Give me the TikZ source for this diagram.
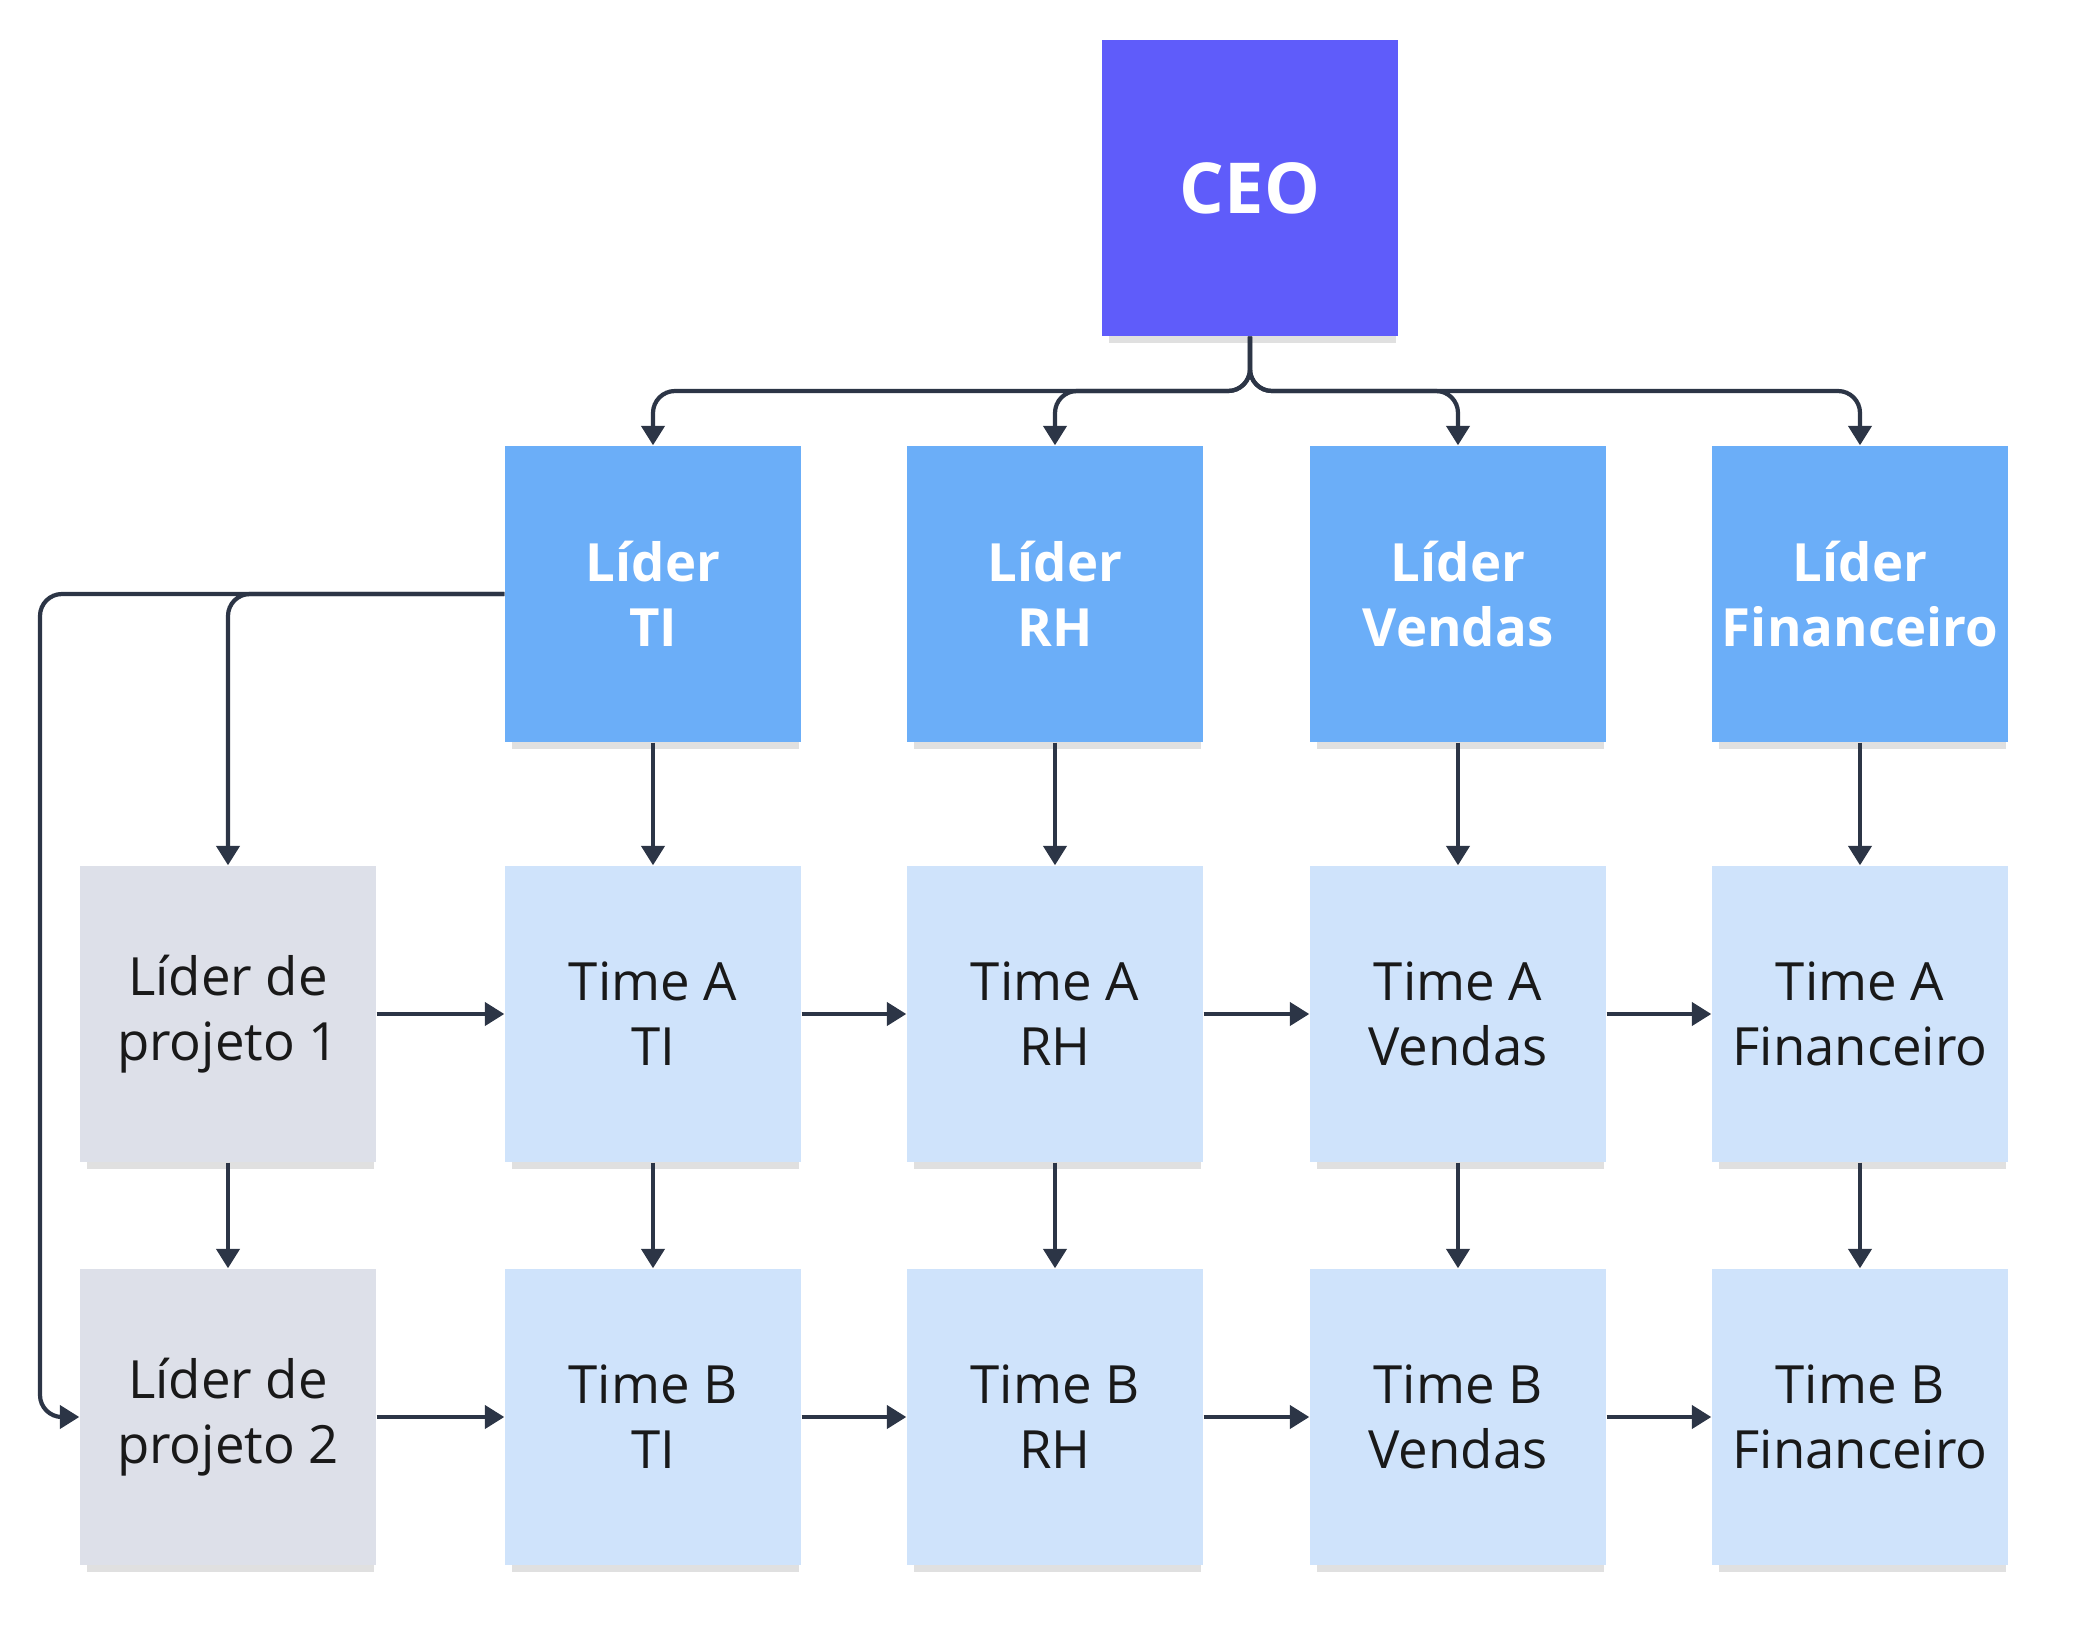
\documentclass[tikz,border=0pt]{standalone}
\usepackage{fontspec}
\setmainfont{Open Sans}
\usetikzlibrary{arrows.meta,shadows}
\definecolor{ceoblue}{RGB}{95,92,250}
\definecolor{leadblue}{RGB}{107,174,248}
\definecolor{teamblue}{RGB}{207,227,251}
\definecolor{projgray}{RGB}{221,224,233}
\definecolor{linedark}{RGB}{44,53,70}
\tikzset{
  box/.style={minimum width=2.96cm,minimum height=2.96cm,inner sep=0pt,align=center,
    font=\fontsize{15}{18.5}\selectfont,
    drop shadow={shadow xshift=0.03cm,shadow yshift=-0.12cm,shadow scale=0.97,fill=black,opacity=0.12}},
  ceobox/.style={box,fill=ceoblue,text=white,font=\fontsize{20}{24}\selectfont\bfseries},
  leadbox/.style={box,fill=leadblue,text=white,font=\fontsize{15}{18.5}\selectfont\bfseries},
  teambox/.style={box,fill=teamblue,text=black!90},
  projbox/.style={box,fill=projgray,text=black!90},
  conn/.style={draw=linedark,line width=1.2pt,rounded corners=0.22cm,
    -{Triangle[length=5.5pt,width=6.5pt]}}
}
\begin{document}
\begin{tikzpicture}
      \useasboundingbox (0,0) rectangle (20.8,-16.42);
      \node[ceobox](ceo) at (12.50,-1.88) {CEO};
      \node[leadbox](liderTI) at (6.53,-5.94) {Líder\\TI};
      \node[leadbox](liderRH) at (10.55,-5.94) {Líder\\RH};
      \node[leadbox](liderVendas) at (14.58,-5.94) {Líder\\Vendas};
      \node[leadbox](liderFin) at (18.60,-5.94) {Líder\\Financeiro};
      \node[projbox](proj1) at (2.28,-10.14) {Líder de\\projeto 1};
      \node[teambox](timeATI) at (6.53,-10.14) {Time A\\TI};
      \node[teambox](timeARH) at (10.55,-10.14) {Time A\\RH};
      \node[teambox](timeAVendas) at (14.58,-10.14) {Time A\\Vendas};
      \node[teambox](timeAFin) at (18.60,-10.14) {Time A\\Financeiro};
      \node[projbox](proj2) at (2.28,-14.17) {Líder de\\projeto 2};
      \node[teambox](timeBTI) at (6.53,-14.17) {Time B\\TI};
      \node[teambox](timeBRH) at (10.55,-14.17) {Time B\\RH};
      \node[teambox](timeBVendas) at (14.58,-14.17) {Time B\\Vendas};
      \node[teambox](timeBFin) at (18.60,-14.17) {Time B\\Financeiro};
      \coordinate(bus) at (12.50,-3.91);
      \coordinate(sideline) at (0.40,-5.94);
      % CEO para os lideres
      \draw[conn] (ceo.south)--(bus)-|(liderTI.north);
      \draw[conn] (ceo.south)--(bus)-|(liderRH.north);
      \draw[conn] (ceo.south)--(bus)-|(liderVendas.north);
      \draw[conn] (ceo.south)--(bus)-|(liderFin.north);
      % lideres de projeto
      \draw[conn] (liderTI.west)-|(proj1.north);
      \draw[conn] (liderTI.west)--(sideline)|-(proj2.west);
      \draw[conn] (proj1)--(proj2);
      % colunas
      \draw[conn] (liderTI)--(timeATI);
      \draw[conn] (liderRH)--(timeARH);
      \draw[conn] (liderVendas)--(timeAVendas);
      \draw[conn] (liderFin)--(timeAFin);
      \draw[conn] (timeATI)--(timeBTI);
      \draw[conn] (timeARH)--(timeBRH);
      \draw[conn] (timeAVendas)--(timeBVendas);
      \draw[conn] (timeAFin)--(timeBFin);
      % linhas
      \draw[conn] (proj1)--(timeATI);
      \draw[conn] (timeATI)--(timeARH);
      \draw[conn] (timeARH)--(timeAVendas);
      \draw[conn] (timeAVendas)--(timeAFin);
      \draw[conn] (proj2)--(timeBTI);
      \draw[conn] (timeBTI)--(timeBRH);
      \draw[conn] (timeBRH)--(timeBVendas);
      \draw[conn] (timeBVendas)--(timeBFin);
      \end{tikzpicture}
\end{document}
